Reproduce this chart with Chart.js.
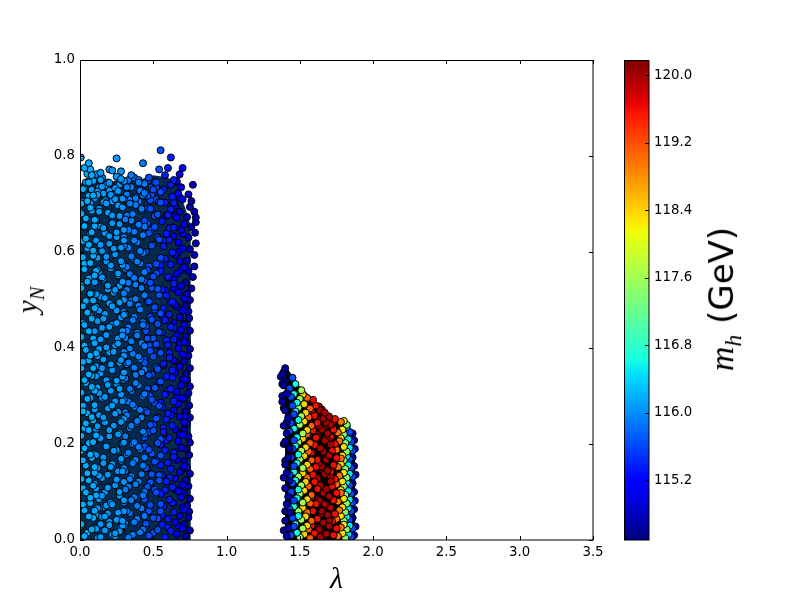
<!DOCTYPE html>
<html>
<head>
<meta charset="utf-8">
<script src="https://cdn.jsdelivr.net/npm/chart.js@4"></script>
<style>
body { margin: 0; background: #fff; width: 800px; height: 600px; position: relative; overflow: hidden; }
canvas { position: absolute; top: 0; }
#main { left: 0; }
#bar { left: 624px; }
.label { position: absolute; transform: translate(-50%, -50%) rotate(-90deg); white-space: nowrap; color: #000; }
.math { font-family: 'Liberation Serif', serif; font-style: italic; }
sub { font-size: 70%; }
</style>
</head>
<body>
<canvas id="main" width="800" height="600"></canvas>
<canvas id="bar" width="125" height="600"></canvas>
<div class="label math" style="left:30px;top:300px;font-size:29px"><span>y</span><sub>N</sub></div>
<div class="label" style="left:724px;top:299px;font-family:'DejaVu Sans';font-size:34px"><span class="math">m<sub>h</sub></span> (GeV)</div>
<script>
// Ticks
const xTicks = [0, 0.5, 1, 1.5, 2, 2.5, 3, 3.5];
const yTicks = [0, 0.2, 0.4, 0.6, 0.8, 1];
const barTicks = [115.2, 116, 116.8, 117.6, 118.4, 119.2, 120];
const barMin = 114.49;
const barMax = 120.18;

// Left blob, one colour band per pair of arrays
const mhL1 = 116.15;
const lamL1 = [.03,.08,.01,.06,.1,.02,.07,.04,.09,.01,.05,.1,.02,.07,.03,.09,.01,.06,.04,.08,.02,.1,.05,.01,.08,.03,.06,.09,.02,.07,.04,.1,.01,.06,.03,.08,.05,.02,.09,.07,.01,.05,.1,.03,.07,.02,.09,.06,.04,.08,.03,.1,.01,.07,.05,.09,.02,.06,.08,.03,.005,.06];
const yL1 = [.008,.022,.033,.049,.061,.074,.088,.099,.113,.127,.139,.152,.166,.178,.191,.204,.217,.229,.243,.256,.268,.281,.294,.307,.319,.333,.345,.358,.371,.384,.396,.41,.423,.435,.448,.461,.474,.487,.499,.513,.525,.538,.551,.564,.577,.589,.603,.615,.628,.641,.654,.667,.68,.692,.706,.718,.731,.745,.76,.775,.797,.785];
const lamL1b = [.05,.01,.09,.03,.07,.11,.02,.06,.1,.04,.08,.01,.06,.11,.03,.09,.05,.02,.07,.1,.04,.08,.01,.06,.11,.03,.09,.05,.02,.07,.1,.04,.08,.01,.06,.11,.03,.09,.05,.02,.07,.1,.04,.08,.01,.06,.03,.09,.05,.07];
const yL1b = [.015,.03,.046,.062,.077,.093,.108,.124,.14,.155,.171,.186,.202,.218,.233,.249,.264,.28,.296,.311,.327,.342,.358,.374,.389,.405,.42,.436,.452,.467,.483,.498,.514,.53,.545,.561,.576,.592,.608,.623,.639,.654,.67,.686,.701,.717,.732,.748,.763,.772];
const mhL2 = 116.05;
const lamL2 = [.14,.24,.11,.2,.29,.17,.26,.12,.22,.3,.15,.27,.19,.1,.25,.13,.29,.21,.16,.28,.11,.23,.18,.3,.14,.26,.2,.12,.28,.16,.24,.1,.22,.29,.17,.13,.27,.19,.25,.11,.3,.15,.21,.28,.12,.23,.18,.26,.14,.29,.1,.2,.25,.16,.3,.13,.22,.27,.17,.11,.24,.19,.29,.15,.26,.12,.21,.28,.18,.1,.23,.14,.3,.2,.25,.16,.27,.11,.22,.13,.29,.18,.24,.12,.26,.15,.2,.28,.14,.25];
const yL2 = [.006,.014,.023,.031,.04,.049,.057,.066,.074,.083,.092,.1,.109,.117,.126,.134,.143,.152,.16,.169,.177,.186,.195,.203,.212,.22,.229,.237,.246,.255,.263,.272,.28,.289,.298,.306,.315,.323,.332,.341,.349,.358,.366,.375,.383,.392,.401,.409,.418,.426,.435,.444,.452,.461,.469,.478,.487,.495,.504,.512,.521,.53,.538,.547,.555,.564,.572,.581,.59,.598,.607,.615,.624,.633,.641,.65,.658,.667,.676,.684,.693,.701,.71,.719,.727,.736,.744,.752,.765,.795];
const lamL2b = [.21,.13,.27,.17,.11,.24,.3,.15,.19,.26,.12,.22,.28,.16,.1,.25,.18,.29,.14,.2,.27,.11,.23,.17,.3,.13,.26,.19,.1,.24,.15,.28,.21,.12,.25,.18,.29,.14,.22,.11,.27,.16,.3,.2,.13,.24,.1,.26,.18,.29,.15,.22,.12,.28,.17,.25,.11,.2,.3,.14,.23,.19,.27,.1,.16,.26,.13,.21,.29,.18,.12,.24,.15,.28,.2,.11,.25,.17,.3,.14,.22,.1,.27,.19,.13,.26,.16,.29,.21,.12,.24,.18,.3,.15,.11,.28,.2,.25,.14,.22];
const yL2b = [.078,.085,.092,.099,.107,.114,.121,.129,.136,.143,.15,.158,.165,.172,.18,.187,.194,.201,.209,.216,.223,.231,.238,.245,.252,.26,.267,.274,.282,.289,.296,.303,.311,.318,.325,.333,.34,.347,.354,.362,.369,.376,.384,.391,.398,.405,.413,.42,.427,.435,.442,.449,.456,.464,.471,.478,.486,.493,.5,.507,.515,.522,.529,.537,.544,.551,.558,.566,.573,.58,.588,.595,.602,.609,.617,.624,.631,.639,.646,.653,.66,.668,.675,.682,.69,.697,.704,.711,.719,.726,.733,.74,.748,.755,.762,.768,.772,.757,.75,.77];
const lamL2c = [.12,.23,.17,.28,.14,.2,.26,.11,.3,.16,.22,.1,.25,.19,.29,.13,.27,.18,.24,.15];
const yL2c = [.004,.012,.02,.027,.033,.038,.045,.052,.06,.068,.011,.025,.042,.055,.03,.065,.018,.072,.008,.048];
const lamL2d = [.02,.06,.1,.13,.17,.2,.23,.27,.3,.04,.08,.12,.16,.19,.22,.25,.29,.01,.07,.15];
const yL2d = [.705,.72,.712,.735,.708,.728,.716,.74,.71,.745,.73,.752,.722,.745,.705,.726,.748,.73,.702,.755];
const mhL3 = 115.9;
const lamL3 = [.33,.41,.3,.37,.44,.32,.39,.35,.43,.31,.38,.34,.42,.3,.36,.44,.33,.4,.37,.31,.43,.35,.39,.32,.41,.36,.3,.44,.34,.38,.31,.42,.37,.33,.4,.3,.44,.35,.39,.32,.43,.36,.31,.41,.34,.38,.3,.42,.33,.37,.44,.32,.39,.35,.41,.3,.37,.43,.33,.4,.31,.36,.42,.34,.38,.44,.32,.4,.35,.43];
const yL3 = [.005,.016,.028,.037,.05,.06,.071,.083,.093,.105,.116,.127,.137,.15,.16,.172,.182,.194,.204,.216,.226,.238,.248,.26,.271,.282,.293,.304,.315,.327,.337,.349,.359,.37,.382,.392,.404,.414,.426,.436,.448,.458,.47,.48,.492,.502,.514,.525,.536,.546,.558,.569,.58,.591,.602,.613,.624,.635,.646,.657,.668,.679,.69,.701,.712,.723,.735,.745,.76,.785];
const lamL3b = [.36,.43,.31,.39,.34,.42,.3,.37,.44,.33,.4,.35,.31,.43,.38,.32,.41,.36,.3,.44,.34,.39,.42,.31,.37,.33,.43,.35,.4,.3,.38,.44,.32,.41,.36,.34,.42,.31,.39,.33,.43,.37,.3,.4,.35,.44,.32,.38,.42,.34,.31,.41,.36,.43,.33,.39,.3,.37,.44,.35,.32,.42,.38,.34,.4];
const yL3b = [.011,.022,.034,.044,.056,.066,.078,.089,.1,.111,.122,.133,.144,.155,.167,.178,.189,.2,.211,.222,.233,.244,.255,.266,.277,.288,.299,.31,.322,.333,.344,.355,.366,.377,.388,.399,.41,.421,.432,.443,.454,.465,.476,.488,.499,.51,.521,.532,.543,.554,.565,.576,.587,.598,.609,.62,.631,.642,.653,.665,.676,.687,.698,.709,.75];
const lamL3c = [.32,.35,.38,.41,.44,.33,.37,.4,.43,.36];
const yL3c = [.72,.735,.71,.728,.742,.75,.755,.705,.718,.712];
const mhL4 = 115.65;
const lamL4 = [.47,.53,.45,.5,.55,.48,.44,.52,.46,.54,.49,.45,.51,.55,.47,.53,.44,.5,.48,.52,.46,.54,.49,.45,.51,.55,.47,.53,.44,.5,.48,.52,.46,.54,.45,.49,.55,.51,.47,.44,.53,.48,.5,.46,.52,.55,.45,.49,.54,.47,.51,.44,.53,.48,.55,.46,.5,.52,.54,.55];
const yL4 = [.009,.021,.034,.046,.06,.073,.085,.099,.111,.124,.137,.15,.163,.176,.188,.202,.214,.228,.24,.253,.266,.279,.292,.305,.317,.33,.343,.356,.369,.382,.394,.408,.42,.433,.446,.459,.472,.485,.497,.511,.523,.536,.549,.562,.575,.588,.6,.613,.626,.639,.652,.665,.678,.69,.703,.717,.73,.745,.772,.812];
const lamL4b = [.5,.45,.53,.47,.55,.44,.51,.48,.54,.46,.52,.49,.44,.55,.47,.5,.53,.45,.51,.48,.46,.54,.49,.52,.44,.55,.47,.5,.45,.53,.48,.51,.46,.54,.49,.44,.52,.47,.55,.45,.5,.53,.48,.46,.51,.44,.54,.49,.52,.47];
const yL4b = [.015,.03,.045,.06,.075,.09,.105,.12,.135,.15,.165,.18,.195,.21,.225,.24,.255,.27,.285,.3,.315,.33,.345,.36,.375,.39,.405,.42,.435,.45,.465,.48,.495,.51,.525,.54,.555,.57,.585,.6,.615,.63,.645,.66,.675,.69,.705,.72,.735,.755];
const lamL4c = [.46,.49,.52,.55,.47,.51,.54,.48];
const yL4c = [.715,.735,.71,.725,.75,.745,.705,.708];
const mhL5 = 115.35;
const lamL5 = [.58,.62,.56,.6,.64,.57,.61,.55,.63,.59,.56,.62,.6,.64,.58,.55,.61,.57,.63,.59,.6,.56,.64,.58,.62,.55,.59,.63,.57,.61,.55,.6,.64,.56,.62,.58,.61,.57,.63,.59,.56,.64,.6,.55,.62,.58,.63,.57,.61,.59,.64,.56,.6,.62,.58,.63,.57,.64,.6,.62];
const yL5 = [.006,.019,.032,.044,.058,.07,.084,.096,.11,.122,.135,.148,.161,.173,.187,.199,.213,.225,.238,.251,.264,.277,.289,.303,.315,.329,.341,.354,.367,.38,.393,.406,.418,.432,.444,.458,.47,.483,.496,.509,.522,.534,.548,.56,.574,.586,.599,.612,.625,.638,.651,.664,.677,.689,.703,.715,.73,.75,.775,.797];
const lamL5b = [.6,.56,.63,.58,.61,.55,.64,.59,.57,.62,.55,.6,.63,.57,.61,.59,.64,.56,.62,.58,.6,.55,.63,.57,.61,.59,.64,.56,.62,.58];
const yL5b = [.026,.052,.078,.104,.13,.156,.182,.208,.234,.26,.286,.312,.338,.364,.39,.416,.442,.468,.494,.52,.546,.572,.598,.624,.65,.676,.702,.728,.74,.76];
const mhL6 = 115.05;
const lamL6 = [.66,.7,.65,.68,.71,.64,.69,.67,.7,.65,.68,.71,.66,.64,.69,.67,.7,.65,.71,.68,.64,.67,.7,.66,.69,.71,.65,.68,.64,.7,.67,.71,.66,.69,.64,.68,.7,.65,.71,.67,.69,.64,.66,.71,.68,.65,.7,.67,.64,.69,.71,.66,.68,.65,.7,.67,.69,.66,.68,.7];
const yL6 = [.012,.024,.037,.05,.063,.076,.089,.102,.115,.128,.141,.154,.167,.18,.192,.206,.219,.231,.245,.257,.27,.283,.296,.309,.322,.335,.348,.361,.374,.387,.399,.413,.426,.438,.452,.464,.478,.49,.503,.516,.529,.542,.555,.568,.581,.594,.607,.62,.633,.646,.658,.671,.684,.697,.71,.722,.735,.748,.762,.775];
const lamL6b = [.67,.7,.65,.69,.64,.68,.71,.66,.7,.65,.68,.71,.66,.64,.69,.67,.7,.65,.68,.66];
const yL6b = [.03,.068,.106,.144,.182,.22,.258,.296,.334,.372,.41,.448,.486,.524,.562,.6,.638,.676,.714,.745];
const mhL7 = 114.75;
const lamL7 = [.72,.75,.71,.74,.745,.73,.75,.71,.74,.72,.75,.73,.71,.745,.72,.75,.74,.71,.73,.75,.72,.745,.71,.74,.75,.73,.72,.75,.71,.74,.75,.73,.72,.75,.71,.745,.74,.72,.75,.73,.76,.72,.77,.74,.78,.73,.78,.75,.79,.74,.785,.76,.79,.73,.78,.75,.79,.76,.74,.77];
const yL7 = [.008,.02,.033,.047,.059,.072,.086,.098,.112,.125,.138,.15,.164,.177,.19,.203,.216,.229,.242,.255,.268,.28,.294,.306,.32,.333,.346,.358,.372,.384,.398,.41,.424,.436,.45,.462,.476,.488,.5,.513,.524,.536,.548,.56,.57,.582,.594,.606,.618,.63,.64,.652,.662,.673,.684,.694,.672,.706,.72,.74];

// Right blob
const mhR1 = 114.7;
const lamR1 = [1.41,1.42,1.4,1.43,1.41,1.42,1.4,1.43,1.41,1.4,1.42,1.43,1.4,1.41,1.39,1.42,1.4,1.38,1.41,1.39,1.38,1.4];
const yR1 = [.008,.025,.04,.057,.075,.09,.108,.124,.14,.157,.172,.19,.205,.222,.238,.255,.27,.288,.305,.322,.345,.358];
const lamR1b = [1.39,1.4,1.39,1.4,1.39,1.41,1.39,1.38,1.4,1.38,1.39,1.37];
const yR1b = [.02,.06,.13,.165,.2,.245,.275,.3,.33,.325,.35,.34];
const mhR2 = 115.6;
const lamR2 = [1.44,1.46,1.45,1.43,1.46,1.44,1.45,1.43,1.46,1.44,1.45,1.46,1.43,1.44,1.46,1.45,1.44,1.43,1.45];
const yR2 = [.01,.028,.046,.064,.082,.1,.118,.136,.154,.172,.19,.208,.226,.244,.262,.28,.298,.316,.338];
const mhR3 = 116.6;
const lamR3 = [1.48,1.47,1.49,1.46,1.48,1.49,1.47,1.46,1.48,1.49,1.47,1.48,1.46,1.49,1.47,1.48,1.46,1.47];
const yR3 = [.015,.033,.05,.07,.087,.105,.124,.142,.16,.178,.196,.214,.232,.25,.268,.286,.304,.325];
const mhR4 = 117.6;
const lamR4 = [1.5,1.52,1.51,1.49,1.52,1.5,1.51,1.49,1.52,1.5,1.51,1.49,1.52,1.5,1.51,1.49,1.5,1.51];
const yR4 = [.006,.024,.042,.06,.078,.096,.114,.132,.15,.168,.186,.204,.222,.24,.258,.276,.294,.312];
const mhR5 = 118.4;
const lamR5 = [1.53,1.55,1.54,1.52,1.55,1.53,1.54,1.52,1.55,1.53,1.54,1.52,1.55,1.53,1.54,1.53,1.52];
const yR5 = [.012,.03,.049,.067,.085,.103,.121,.139,.157,.175,.193,.211,.229,.247,.265,.283,.303];
const mhR6 = 119.1;
const lamR6 = [1.57,1.56,1.58,1.55,1.57,1.58,1.56,1.55,1.57,1.58,1.56,1.57,1.55,1.58,1.56,1.57,1.55];
const yR6 = [.004,.022,.04,.058,.076,.094,.112,.13,.148,.166,.184,.202,.22,.238,.256,.274,.296];
const mhR7 = 119.6;
const lamR7 = [1.6,1.58,1.62,1.59,1.61,1.58,1.62,1.6,1.59,1.61,1.62,1.58,1.6,1.61,1.59,1.62,1.6,1.58,1.61,1.59];
const yR7 = [.014,.03,.044,.06,.075,.09,.106,.121,.136,.152,.167,.182,.198,.213,.228,.244,.259,.271,.28,.292];
const mhR8 = 120;
const lamR8 = [1.64,1.68,1.63,1.7,1.66,1.62,1.69,1.65,1.71,1.67,1.63,1.7,1.66,1.68,1.64,1.71,1.62,1.67,1.69,1.65,1.63,1.68,1.7,1.66,1.64,1.71,1.67,1.62,1.69,1.65,1.63,1.68,1.66,1.7,1.64,1.67];
const yR8 = [.006,.013,.021,.029,.036,.044,.052,.06,.067,.075,.083,.091,.098,.106,.114,.122,.129,.137,.145,.153,.16,.168,.176,.184,.191,.199,.207,.215,.222,.23,.238,.245,.253,.257,.27,.265];
const lamR8b = [1.67,1.63,1.7,1.65,1.69,1.62,1.68,1.64,1.71,1.66,1.63,1.69,1.65,1.7,1.62,1.67,1.64,1.71,1.66,1.68,1.63,1.65,1.69,1.67];
const yR8b = [.01,.025,.04,.055,.07,.085,.1,.115,.13,.145,.16,.175,.19,.205,.22,.235,.25,.24,.228,.212,.278,.272,.258,.256];
const mhR9 = 119.6;
const lamR9 = [1.73,1.75,1.72,1.74,1.71,1.73,1.75,1.72,1.74,1.71,1.73,1.75,1.72,1.74,1.71,1.73,1.72,1.74];
const yR9 = [.01,.024,.039,.054,.068,.083,.098,.112,.127,.142,.156,.171,.186,.2,.215,.23,.244,.252];
const mhR10 = 119;
const lamR10 = [1.76,1.78,1.75,1.77,1.76,1.78,1.75,1.77,1.76,1.78,1.75,1.77,1.76,1.78];
const yR10 = [.008,.026,.044,.062,.08,.098,.116,.134,.152,.17,.188,.206,.224,.246];
const mhR11 = 118.3;
const lamR11 = [1.79,1.8,1.78,1.79,1.8,1.78,1.79,1.8,1.78,1.79,1.8,1.78,1.79,1.8];
const yR11 = [.014,.032,.05,.068,.086,.104,.122,.14,.158,.176,.194,.212,.23,.248];
const mhR12 = 117.4;
const lamR12 = [1.81,1.82,1.8,1.81,1.82,1.81,1.8,1.82,1.81,1.8,1.82,1.81,1.8,1.82];
const yR12 = [.004,.022,.04,.058,.076,.094,.112,.13,.148,.166,.184,.202,.22,.24];
const mhR13 = 116.5;
const lamR13 = [1.83,1.84,1.82,1.83,1.84,1.83,1.82,1.84,1.83,1.82,1.84,1.83,1.82];
const yR13 = [.012,.03,.048,.066,.084,.102,.12,.138,.156,.174,.192,.21,.236];
const mhR14 = 115.6;
const lamR14 = [1.85,1.86,1.84,1.85,1.86,1.85,1.84,1.86,1.85,1.84,1.86,1.85,1.84];
const yR14 = [.006,.024,.042,.06,.078,.096,.114,.132,.15,.168,.186,.204,.225];
const mhR15 = 114.7;
const lamR15 = [1.87,1.88,1.86,1.87,1.875,1.87,1.86,1.88,1.87,1.86,1.875,1.87,1.86];
const yR15 = [.01,.028,.046,.064,.082,.1,.118,.136,.154,.172,.19,.208,.222];

// Outlines of the two dense clouds, the black marker edges merge into these
const edgeLamL = [0,.05,.1,.2,.3,.4,.5,.6,.66,.72,.77,.78,.76,.755];
const edgeYL = [.74,.755,.75,.745,.755,.75,.76,.755,.74,.69,.64,.55,.5,0];
const edgeLamR = [1.4,1.37,1.38,1.42,1.5,1.59,1.68,1.74,1.8,1.86,1.88,1.875];
const edgeYR = [0,.34,.362,.355,.32,.295,.265,.25,.25,.225,.2,0];

const bands = [
    [mhL1, lamL1, yL1], [mhL1, lamL1b, yL1b], [mhL2, lamL2, yL2], [mhL2, lamL2b, yL2b], [mhL2, lamL2c, yL2c], [mhL2, lamL2d, yL2d],
    [mhL3, lamL3, yL3], [mhL3, lamL3b, yL3b], [mhL3, lamL3c, yL3c], [mhL4, lamL4, yL4], [mhL4, lamL4b, yL4b], [mhL4, lamL4c, yL4c],
    [mhL5, lamL5, yL5], [mhL5, lamL5b, yL5b], [mhL6, lamL6, yL6], [mhL6, lamL6b, yL6b], [mhL7, lamL7, yL7],
    [mhR1, lamR1, yR1], [mhR1, lamR1b, yR1b], [mhR2, lamR2, yR2], [mhR3, lamR3, yR3], [mhR4, lamR4, yR4],
    [mhR5, lamR5, yR5], [mhR6, lamR6, yR6], [mhR7, lamR7, yR7], [mhR8, lamR8, yR8], [mhR8, lamR8b, yR8b],
    [mhR9, lamR9, yR9], [mhR10, lamR10, yR10], [mhR11, lamR11, yR11], [mhR12, lamR12, yR12],
    [mhR13, lamR13, yR13], [mhR14, lamR14, yR14], [mhR15, lamR15, yR15]
];

// Jet colormap
const jetR = [[0, 0], [.35, 0], [.66, 1], [.89, 1], [1, .5]];
const jetG = [[0, 0], [.125, 0], [.375, 1], [.64, 1], [.91, 0], [1, 0]];
const jetB = [[0, .5], [.11, 1], [.34, 1], [.65, 0], [1, 0]];

function channel(table, n) {
    for (let i = 1; i < table.length; i++) {
        if (n <= table[i][0]) {
            const a = table[i - 1], b = table[i];
            return a[1] + (b[1] - a[1]) * (n - a[0]) / (b[0] - a[0]);
        }
    }
    return table[table.length - 1][1];
}

function jet(n) {
    const c = t => Math.round(channel(t, n) * 255);
    return `rgb(${c(jetR)},${c(jetG)},${c(jetB)})`;
}

function mhColor(mh) {
    return jet((mh - barMin) / (barMax - barMin));
}

function toPoints(lam, y) {
    return lam.map((v, i) => ({ x: v, y: y[i] }));
}

// Ticks point inwards on every side and the frame goes over the points
const framePlugin = {
    id: 'frame',
    afterDatasetsDraw(chart) {
        const { ctx, chartArea: a, scales } = chart;
        ctx.save();
        ctx.strokeStyle = '#000';
        ctx.lineWidth = 1;
        ctx.beginPath();
        Object.values(scales).forEach(s => {
            if (!s.options.display) return;
            s.ticks.forEach((t, i) => {
                const p = Math.round(s.getPixelForTick(i)) + 0.5;
                if (s.isHorizontal()) {
                    ctx.moveTo(p, a.bottom); ctx.lineTo(p, a.bottom - 4);
                    ctx.moveTo(p, a.top); ctx.lineTo(p, a.top + 4);
                } else {
                    ctx.moveTo(a.right, p); ctx.lineTo(a.right - 4, p);
                    if (chart.canvas.id === 'main') { ctx.moveTo(a.left, p); ctx.lineTo(a.left + 4, p); }
                }
            });
        });
        ctx.stroke();
        ctx.strokeRect(a.left + 0.5, a.top + 0.5, a.right - a.left - 1 + 0.5, a.bottom - a.top - 1 + 0.5);
        ctx.restore();
    }
};

const tickFont = { family: 'DejaVu Sans', size: 13.33 };

new Chart(document.getElementById('main'), {
    type: 'scatter',
    data: {
        datasets: [
            { type: 'line', data: toPoints(edgeLamL, edgeYL), borderWidth: 0, pointRadius: 0, fill: 'origin', backgroundColor: '#052a4d', tension: 0, order: 10, clip: 0 },
            { type: 'line', data: toPoints(edgeLamR, edgeYR), borderWidth: 0, pointRadius: 0, fill: 'origin', backgroundColor: '#000', tension: 0, order: 10, clip: 0 }
        ].concat(bands.map(b => ({
            data: toPoints(b[1], b[2]),
            pointRadius: 3.5,
            pointBorderWidth: 1,
            pointBorderColor: '#000',
            pointBackgroundColor: mhColor(b[0]),
            order: 1,
            clip: 0
        })))
    },
    options: {
        responsive: false,
        animation: false,
        layout: { padding: { left: 0, right: 207, top: 60, bottom: 0 } },
        plugins: { legend: { display: false }, tooltip: { enabled: false } },
        scales: {
            x: {
                type: 'linear', min: 0, max: 3.5,
                afterBuildTicks: s => { s.ticks = xTicks.map(v => ({ value: v })); },
                afterFit: s => { s.height = 60; },
                grid: { display: false, drawTicks: false },
                border: { display: false },
                ticks: { color: '#000', font: tickFont, padding: 5, maxRotation: 0, callback: v => v.toFixed(1) },
                title: { display: true, text: 'λ', color: '#000', padding: { top: 0, bottom: 2 }, font: { family: 'Liberation Serif', style: 'italic', size: 30 } }
            },
            y: {
                min: 0, max: 1,
                afterBuildTicks: s => { s.ticks = yTicks.map(v => ({ value: v })); },
                afterFit: s => { s.width = 80; },
                grid: { display: false, drawTicks: false },
                border: { display: false },
                ticks: { color: '#000', font: tickFont, padding: 5, callback: v => v.toFixed(1) }
            }
        }
    },
    plugins: [framePlugin]
});

// Colorbar
new Chart(document.getElementById('bar'), {
    type: 'bar',
    data: {
        labels: [''],
        datasets: [{
            data: [[barMin, barMax]],
            barPercentage: 1,
            categoryPercentage: 1,
            backgroundColor: ctx => {
                const a = ctx.chart.chartArea;
                if (!a) return '#000';
                const g = ctx.chart.ctx.createLinearGradient(0, a.bottom, 0, a.top);
                [0, .11, .125, .34, .35, .375, .64, .65, .66, .89, .91, 1].forEach(n => g.addColorStop(n, jet(n)));
                return g;
            }
        }]
    },
    options: {
        responsive: false,
        animation: false,
        layout: { padding: { left: 0, right: 0, top: 60, bottom: 60 } },
        plugins: { legend: { display: false }, tooltip: { enabled: false } },
        scales: {
            x: { display: false },
            y: {
                position: 'right',
                min: barMin, max: barMax,
                afterBuildTicks: s => { s.ticks = barTicks.map(v => ({ value: v })); },
                afterFit: s => { s.width = 100; },
                grid: { display: false, drawTicks: false },
                border: { display: false },
                ticks: { color: '#000', font: tickFont, padding: 5, callback: v => v.toFixed(1) }
            }
        }
    },
    plugins: [framePlugin]
});
</script>
</body>
</html>
